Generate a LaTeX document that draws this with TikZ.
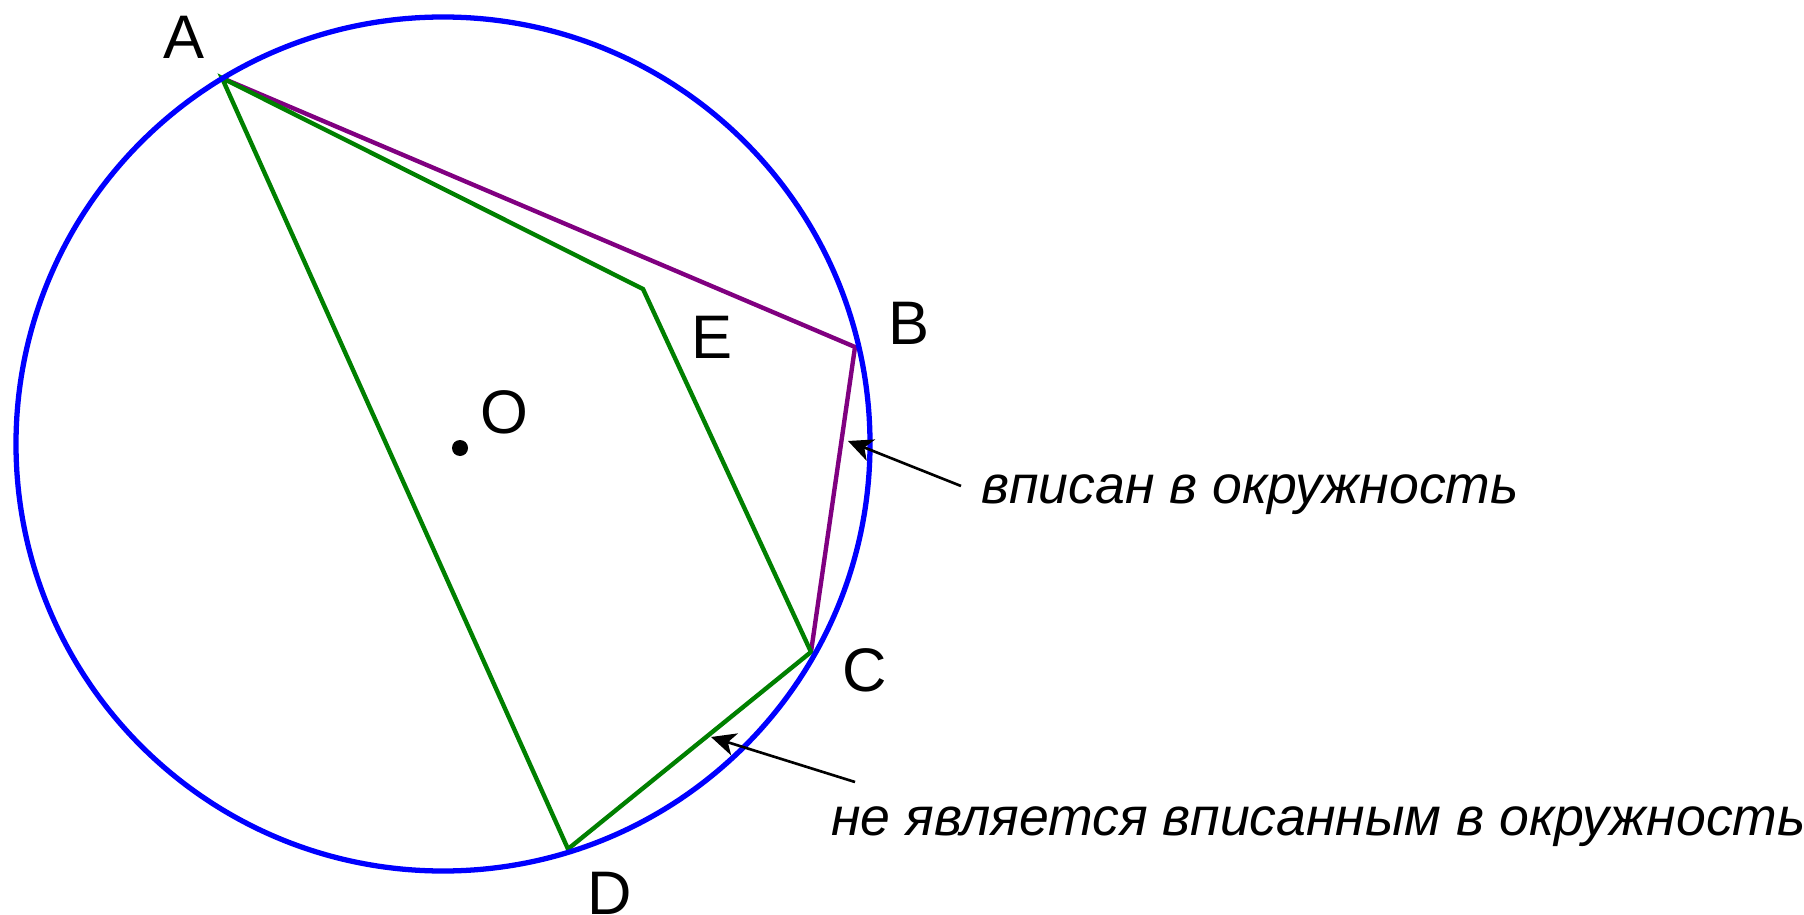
\documentclass[tikz,border=0pt]{standalone}
\usepackage{fontspec}
\setmainfont{Liberation Sans}
\usetikzlibrary{arrows.meta}

\begin{document}
\begin{tikzpicture}[x=0.02cm, y=-0.02cm,
  lbl/.style={font=\fontsize{35}{42}\selectfont, inner sep=0pt},
  note/.style={font=\itshape\fontsize{30.5}{37}\selectfont, inner sep=0pt, anchor=west},
  arr/.style={-{Stealth[length=14pt, width=13pt, inset=4pt]}, line width=1.5pt},
  ring/.style={draw=blue, line width=3pt},
  good/.style={draw={rgb,255:red,128;green,0;blue,128}, line width=2.5pt, line join=miter},
  bad/.style={draw={rgb,255:red,0;green,128;blue,0}, line width=2.5pt, line join=miter},
]
\useasboundingbox (0,0) rectangle (1804,915);
% points of the figure
\coordinate (A) at (222,78);
\coordinate (B) at (855,347);
\coordinate (C) at (811,652);
\coordinate (D) at (568,849);
\coordinate (E) at (643,289);
\coordinate (O) at (460,448);
% where the arrows point
\coordinate (pBC) at (848,441);
\coordinate (pCD) at (711,737);

\draw[good] (A) -- (B) -- (C);
\draw[bad] (A) -- (E) -- (C) -- (D) -- cycle;
\draw[ring] (443,444) circle[radius=427];
\fill (O) circle[radius=8];

\node[lbl] (lA) at (184,37) {A};
\node[lbl] (lB) at (909,323) {B};
\node[lbl] (lC) at (865,670) {C};
\node[lbl] (lD) at (610,893) {D};
\node[lbl] (lE) at (712,337) {E};
\node[lbl] (lO) at (504,412) {O};

\node[note] (t1) at (981,495) {вписан в окружность};
\node[note] (t2) at (831,827) {не является вписанным в окружность};
\draw[arr] (t1.west) ++(-20,-9) coordinate (s1) -- (pBC);
\draw[arr] (t2.west) ++(24,-45) coordinate (s2) -- (pCD);
\end{tikzpicture}
\end{document}
